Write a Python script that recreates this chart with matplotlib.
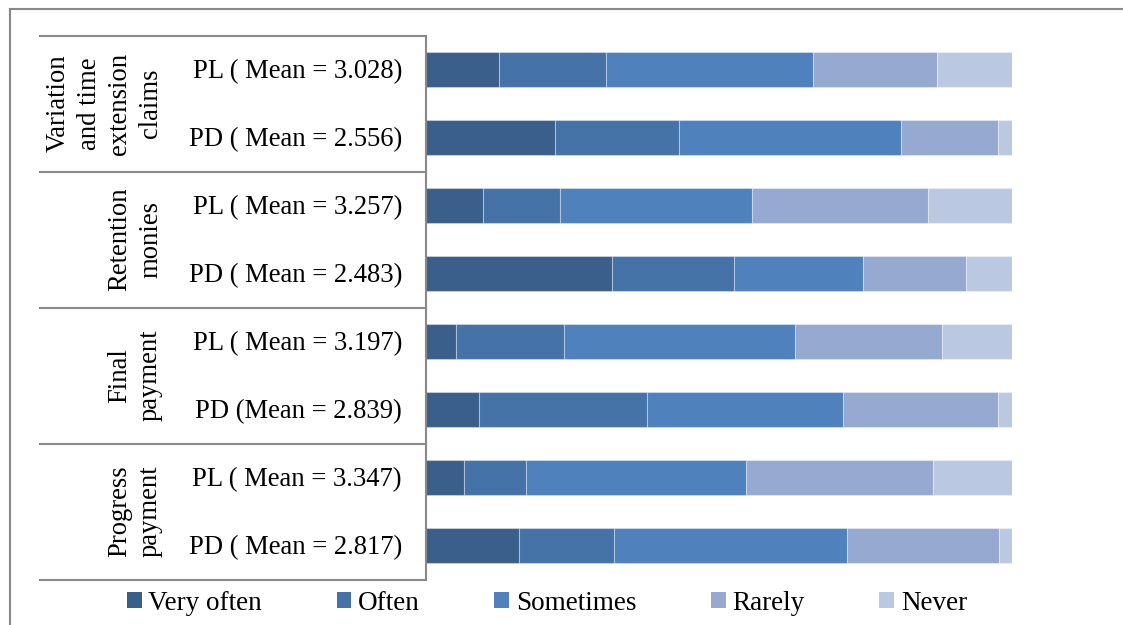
import matplotlib
matplotlib.use("Agg")
import matplotlib.pyplot as plt
import matplotlib.transforms as mtransforms
from matplotlib.lines import Line2D
from matplotlib.patches import Patch
import numpy as np

plt.rcParams["font.family"] = ["Liberation Serif", "DejaVu Serif"]

# Survey data: share of respondents (%) per response, one row per bar (top to bottom)
groups = ["Variation\nand time\nextension\nclaims", "Retention\nmonies",
          "Final\npayment", "Progress\npayment"]
row_labels = ["PL ( Mean = 3.028)", "PD ( Mean = 2.556)",
              "PL ( Mean = 3.257)", "PD ( Mean = 2.483)",
              "PL ( Mean = 3.197)", "PD (Mean = 2.839)",
              "PL ( Mean = 3.347)", "PD ( Mean = 2.817)"]
responses = ["Very often", "Often", "Sometimes", "Rarely", "Never"]
very_often = [12.5, 22.1, 9.8, 31.8, 5.1, 9.1, 6.5, 15.9]
often = [18.2, 21.2, 13.0, 20.9, 18.5, 28.7, 10.5, 16.3]
sometimes = [35.3, 37.9, 32.8, 22.0, 39.4, 33.4, 37.5, 39.8]
rarely = [21.2, 16.6, 30.1, 17.6, 25.1, 26.5, 32.0, 25.9]
never = [12.8, 2.3, 14.3, 7.8, 11.9, 2.3, 13.4, 2.2]

colors = ["#3A5F8B", "#4572A7", "#4F81BD", "#95A9D1", "#BBC8E1"]
frame_color = "#888888"

W, H = 1123, 625
fig = plt.figure(figsize=(W / 100, H / 100), dpi=100)
fig.patch.set_facecolor("white")

ax_left, ax_right, ax_top, ax_bottom = 426, 1011.7, 35.5, 579.5
ax = fig.add_axes([ax_left / W, 1 - ax_bottom / H,
                   (ax_right - ax_left) / W, (ax_bottom - ax_top) / H])

data = np.array([very_often, often, sometimes, rarely, never], dtype=float)
shares = data / data.sum(axis=0) * 100  # 100% stacked
y = np.arange(len(row_labels))
left = np.zeros(len(row_labels))
for vals, name, col in zip(shares, responses, colors):
    ax.barh(y, vals, left=left, height=0.515, color=col,
            edgecolor=(1, 1, 1, 0.35), linewidth=0.8, label=name)
    left += vals

ax.set_xlim(0, 100)
ax.set_ylim(len(row_labels) - 0.5, -0.5)
ax.set_xticks([])
ax.set_yticks([])
for s in ("top", "right", "bottom"):
    ax.spines[s].set_visible(False)
ax.spines["left"].set_color(frame_color)
ax.spines["left"].set_linewidth(1.5)

# Category table on the left
trans = mtransforms.blended_transform_factory(fig.transFigure, ax.transData)
for b in np.arange(-0.5, len(row_labels), 2):
    ax.add_line(Line2D([40 / W, ax_left / W], [b, b], transform=trans,
                       color=frame_color, linewidth=1.5, clip_on=False))

for yi, lab in zip(y, row_labels):
    ax.text(402 / W, yi + 0.03, lab, transform=trans, ha="right", va="center",
            fontsize=19.2, color="black")

for gi, g in enumerate(groups):
    ax.text(163 / W, 2 * gi + 0.5, g, transform=trans, rotation=90,
            ha="right", va="center", multialignment="center",
            fontsize=19.2, linespacing=1.3, color="black")

# Outer frame
fig.add_artist(Line2D([10 / W, 1], [1 - 9 / H, 1 - 9 / H], transform=fig.transFigure,
                      color=frame_color, linewidth=1.5))
fig.add_artist(Line2D([10 / W, 10 / W], [0, 1 - 9 / H], transform=fig.transFigure,
                      color=frame_color, linewidth=1.5))

handles = [Patch(facecolor=c, edgecolor="none") for c in colors]
fig.legend(handles, responses, loc="center", bbox_to_anchor=(547 / W, 1 - 603 / H),
           ncol=5, frameon=False, fontsize=19.5, handlelength=0.55, handleheight=0.55,
           handletextpad=0.25, columnspacing=2.75, borderaxespad=0)

fig.savefig("out.png", dpi=100, facecolor="white")
